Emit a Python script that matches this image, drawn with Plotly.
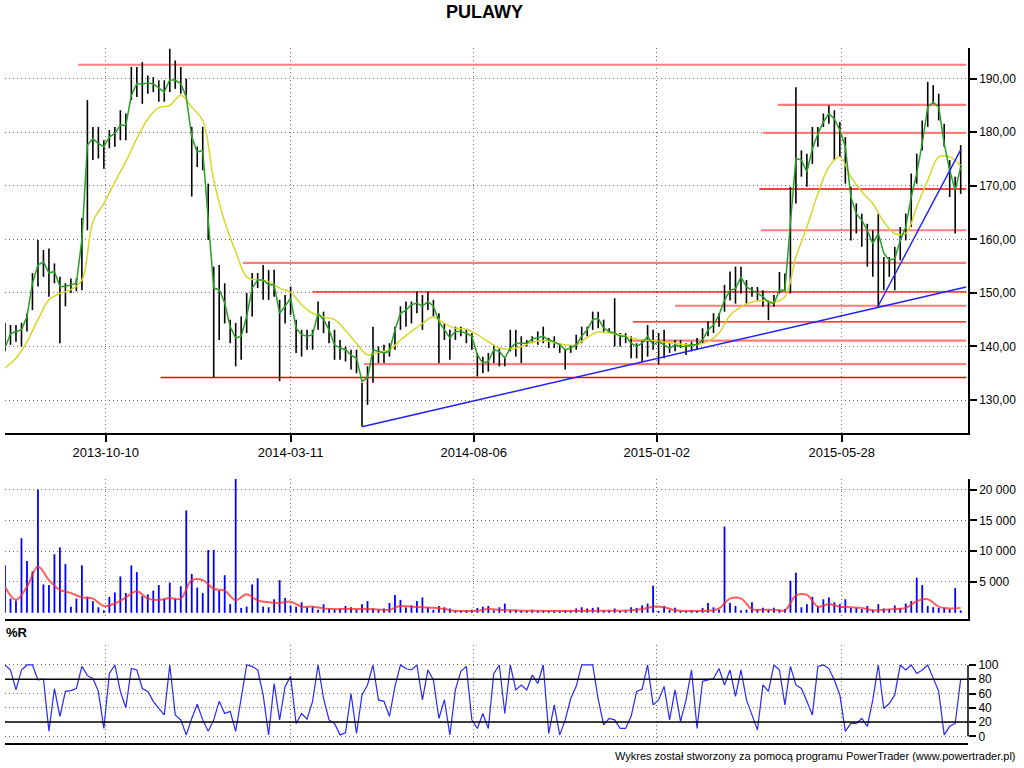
import plotly.graph_objects as go

title_text = "PULAWY"
footer_text = "Wykres został stworzony za pomocą programu PowerTrader (www.powertrader.pl)"
wr_title = "%R"

# samples are taken every `step` trading days (bar index)
step = 3

tick_idx = [55, 156, 256, 356, 457]
tick_labels = ["2013-10-10", "2014-03-11", "2014-08-06", "2015-01-02", "2015-05-28"]

# price high / low per sample
hi = [144.4, 144.0, 144.0, 144.4, 146.2, 153.7, 159.9, 158.0, 158.3, 155.5,
      153.0, 151.8, 152.7, 152.7, 164.0, 186.0, 181.0, 181.0, 178.5, 180.4,
      181.0, 184.1, 183.5, 192.2, 192.2, 193.1, 190.6, 190.3, 189.7, 189.7,
      195.6, 193.4, 192.2, 190.0, 181.0, 177.3, 181.0, 170.4, 154.9, 155.2,
      151.8, 145.0, 144.4, 145.6, 150.0, 153.7, 153.7, 155.2, 154.3, 154.3,
      148.7, 149.6, 151.2, 145.0, 143.1, 143.1, 143.1, 148.4, 146.5, 144.7,
      143.1, 141.2, 140.0, 139.4, 139.4, 133.2, 136.3, 143.7, 140.0, 140.3,
      140.6, 143.7, 147.5, 148.4, 148.4, 150.2, 149.6, 150.2, 148.7, 146.2,
      144.3, 143.1, 143.7, 143.7, 143.1, 142.5, 138.8, 138.1, 138.8, 140.3,
      139.7, 138.1, 143.1, 143.1, 141.9, 141.2, 141.9, 142.8, 143.7, 141.6,
      141.9, 140.6, 139.4, 140.3, 142.2, 143.7, 143.7, 146.5, 146.5, 145.0,
      143.4, 149.0, 142.5, 142.5, 141.9, 140.6, 141.2, 144.0, 143.1, 142.5,
      143.1, 140.6, 141.2, 141.2, 140.6, 140.9, 141.6, 143.4, 144.7, 146.2,
      146.2, 151.5, 154.0, 154.9, 154.9, 152.4, 151.1, 151.1, 150.5, 148.6,
      149.6, 153.9, 153.6, 169.8, 188.4, 176.6, 176.0, 181.0, 181.0, 183.5,
      185.0, 184.1, 181.9, 179.1, 169.8, 166.7, 164.8, 162.9, 161.7, 164.8,
      156.7, 156.7, 158.6, 162.3, 164.8, 172.3, 176.0, 182.2, 189.4, 188.8,
      187.2, 181.6, 174.8, 171.7, 177.6]
lo = [139.1, 140.3, 140.9, 140.0, 142.8, 146.8, 151.2, 153.0, 149.3, 151.8,
      140.6, 147.5, 150.0, 150.3, 150.5, 161.7, 174.8, 175.1, 173.2, 177.0,
      177.3, 178.5, 178.5, 186.0, 186.6, 185.3, 187.2, 187.5, 185.7, 185.7,
      187.5, 188.1, 187.2, 186.9, 168.0, 173.5, 172.9, 159.9, 134.1, 141.2,
      144.3, 140.6, 136.3, 137.5, 142.5, 145.6, 150.9, 148.7, 148.7, 149.3,
      133.5, 144.3, 145.9, 138.8, 138.1, 139.4, 139.4, 143.1, 142.5, 140.6,
      137.5, 137.5, 137.2, 135.7, 135.0, 125.1, 129.1, 133.2, 136.9, 136.9,
      138.1, 139.4, 143.1, 143.7, 144.3, 146.2, 143.1, 146.8, 145.6, 136.9,
      141.2, 137.5, 141.2, 141.9, 140.6, 139.4, 134.4, 135.0, 135.3, 136.9,
      136.3, 136.3, 139.1, 138.1, 136.9, 140.0, 140.6, 140.3, 140.6, 139.7,
      139.7, 138.8, 135.7, 138.8, 139.4, 140.6, 141.9, 143.1, 143.4, 142.5,
      142.5, 140.0, 140.0, 140.6, 137.8, 137.8, 137.2, 138.1, 139.4, 136.6,
      137.8, 138.8, 139.1, 139.7, 138.4, 139.1, 139.4, 140.6, 141.9, 142.5,
      143.7, 146.5, 148.6, 148.0, 149.9, 148.0, 149.3, 148.6, 147.4, 144.9,
      147.4, 149.9, 150.5, 149.9, 166.7, 171.7, 169.8, 174.1, 177.3, 181.0,
      181.6, 174.8, 175.4, 170.4, 159.8, 161.1, 158.6, 154.9, 153.0, 147.4,
      150.5, 153.0, 150.5, 156.1, 159.8, 162.3, 170.4, 176.6, 181.0, 185.3,
      182.2, 177.3, 167.9, 161.1, 168.5]

# short moving average (green), one value per sample
ma_short = [139.7, 142.4, 142.8, 143.1, 145.6, 151.8, 155.2, 155.8, 153.7, 154.0,
            151.2, 151.2, 151.5, 151.8, 160.0, 177.6, 178.8, 177.9, 177.3, 179.1,
            179.8, 181.3, 181.3, 186.9, 189.1, 189.0, 189.2, 189.0, 188.3, 187.5,
            189.8, 189.7, 189.1, 186.6, 179.1, 176.3, 176.6, 163.0, 150.9, 150.6,
            148.1, 143.7, 141.6, 141.9, 145.6, 150.9, 152.4, 152.4, 151.5, 151.5,
            146.2, 147.5, 149.0, 143.4, 142.2, 141.9, 142.2, 146.2, 145.0, 143.1,
            140.3, 139.7, 139.4, 138.4, 137.8, 133.5, 134.1, 139.4, 139.1, 138.8,
            139.1, 143.1, 146.2, 146.8, 147.8, 148.1, 147.5, 148.4, 147.5, 144.7,
            143.1, 141.6, 142.8, 142.8, 142.5, 141.9, 138.4, 136.9, 137.2, 139.4,
            139.1, 137.8, 139.7, 140.6, 140.6, 140.6, 141.4, 141.6, 141.9, 141.2,
            140.9, 140.3, 139.4, 139.7, 140.3, 141.9, 143.1, 145.0, 145.3, 143.4,
            142.8, 142.5, 141.9, 141.9, 140.6, 140.0, 140.6, 141.9, 140.3, 140.9,
            140.3, 139.7, 140.3, 140.0, 140.0, 140.3, 140.3, 141.2, 143.1, 144.0,
            145.9, 148.6, 150.5, 150.8, 153.0, 151.1, 150.5, 149.9, 149.3, 148.3,
            148.0, 150.5, 150.5, 163.0, 175.1, 174.8, 172.6, 176.9, 179.7, 181.9,
            183.5, 182.5, 180.4, 177.3, 167.9, 164.8, 163.6, 161.7, 159.2, 161.1,
            157.4, 156.1, 156.4, 159.8, 162.3, 167.9, 172.3, 177.9, 184.7, 185.6,
            184.7, 177.9, 172.9, 169.2, 173.5]

# long moving average (yellow), one value every two samples
ma_long = [136.0, 137.8, 140.9, 145.0, 148.7, 149.9, 150.6, 152.4, 163.3, 166.7,
           170.7, 174.5, 178.8, 182.5, 184.6, 185.0, 186.9, 184.7, 182.2, 171.1,
           163.3, 157.7, 153.0, 152.4, 152.1, 150.9, 150.1, 147.8, 146.2, 145.5,
           145.0, 143.0, 140.6, 138.4, 138.9, 139.4, 141.2, 142.8, 144.3, 145.5,
           144.3, 143.4, 143.2, 142.2, 140.9, 139.7, 139.5, 140.0, 140.8, 141.1,
           140.7, 140.3, 140.3, 141.7, 142.7, 142.5, 142.2, 141.6, 141.2, 141.1,
           140.8, 140.6, 140.3, 140.3, 140.9, 142.5, 145.8, 147.4, 148.3, 148.6,
           148.3, 149.3, 156.7, 162.3, 168.5, 173.5, 175.4, 171.7, 168.9, 166.7,
           163.3, 161.1, 161.1, 166.1, 171.0, 175.4, 175.4, 173.8]

# volume per sample
vol = [7700, 2300, 2000, 12100, 8400, 6700, 20000, 4600, 4500, 9500,
       10600, 7900, 1000, 2300, 7700, 2600, 1900, 900, 400, 2600,
       3300, 5900, 3200, 7700, 6600, 2700, 3000, 3600, 4500, 2300,
       4900, 2300, 4300, 16600, 6300, 4100, 3200, 10200, 10200, 3600,
       6100, 1400, 21800, 800, 1000, 4600, 5600, 1000, 900, 2200,
       5300, 2400, 1200, 1000, 1700, 900, 1000, 500, 1400, 700,
       500, 700, 1100, 900, 500, 1400, 1900, 700, 500, 700,
       1600, 2900, 2100, 900, 1200, 1900, 2500, 900, 500, 1100,
       900, 700, 400, 400, 400, 500, 800, 1000, 1100, 400,
       900, 1500, 400, 500, 400, 300, 500, 300, 400, 300,
       400, 300, 400, 400, 700, 900, 700, 800, 900, 400,
       400, 700, 300, 400, 900, 800, 1200, 1500, 4400, 300,
       1100, 500, 800, 300, 300, 400, 300, 800, 1600, 900,
       500, 14000, 1600, 1100, 400, 500, 1700, 600, 800, 500,
       800, 500, 600, 5200, 6500, 900, 1400, 2600, 1000, 2200,
       2500, 1700, 1400, 2200, 800, 800, 600, 1100, 500, 1400,
       700, 600, 1200, 800, 1500, 1900, 5700, 4500, 1100, 900,
       800, 800, 600, 4000, 400]

# volume moving average (red), one value every two samples
vol_ma = [4200, 2100, 4200, 7500, 5300, 3700, 3200, 2500, 2300, 1100,
          1500, 2500, 3500, 2300, 2100, 2400, 2300, 5300, 5300, 3900,
          3600, 2050, 3000, 2000, 1700, 1600, 1800, 1000, 1000, 700,
          600, 600, 600, 600, 550, 500, 1100, 1000, 900, 800,
          600, 300, 300, 350, 600, 500, 400, 350, 350, 300,
          300, 300, 300, 300, 350, 350, 350, 400, 600, 1000,
          900, 400, 300, 300, 300, 700, 2300, 2300, 600, 500,
          500, 400, 2800, 2900, 1000, 1400, 1000, 900, 800, 400,
          500, 600, 800, 1900, 2200, 1000, 700, 800]

# Williams %R per sample
wr = [100, 93, 65, 93, 100, 100, 79, 80, 7, 67,
      28, 63, 64, 67, 98, 85, 81, 63, 11, 88,
      100, 63, 40, 95, 93, 67, 63, 49, 39, 30,
      100, 30, 23, 2, 25, 45, 23, 7, 23, 49,
      32, 35, 7, 51, 100, 98, 93, 58, 2, 74,
      23, 70, 84, 18, 32, 24, 49, 100, 53, 23,
      18, 2, 5, 60, 4, 58, 72, 100, 51, 49,
      28, 70, 100, 95, 93, 100, 51, 93, 79, 25,
      51, 2, 65, 91, 98, 23, 11, 32, 11, 88,
      100, 32, 100, 65, 72, 65, 86, 74, 100, 4,
      44, 2, 23, 53, 70, 100, 100, 100, 52, 16,
      25, 23, 11, 11, 28, 63, 66, 100, 44, 51,
      70, 23, 65, 21, 51, 93, 11, 77, 79, 81,
      95, 72, 93, 56, 93, 51, 30, 9, 72, 63,
      100, 93, 44, 98, 72, 67, 49, 30, 98, 100,
      95, 79, 58, 7, 18, 18, 25, 14, 51, 100,
      39, 46, 58, 100, 93, 100, 88, 93, 100, 81,
      63, 2, 14, 18, 80]

# horizontal support / resistance levels (price, starting bar index, strong?)
levels = [192.6, 185.1, 179.9, 169.4, 161.7, 155.6, 150.2, 147.6, 144.6, 141.1, 136.7, 134.2]
level_start = [40, 422, 414, 412, 413, 130, 168, 366, 343, 341, 196, 85]
level_strong = [False, False, False, True, False, False, True, False, True, False, False, True]

# trend lines (bar index, price)
trend1_x = [195, 525]
trend1_y = [125.0, 151.1]
trend2_x = [477, 522]
trend2_y = [147.6, 176.7]

price_ticks = [130, 140, 150, 160, 170, 180, 190]
vol_ticks = [5000, 10000, 15000, 20000]
wr_ticks = [0, 20, 40, 60, 80, 100]
wr_levels = [20, 80]

# ---------------------------------------------------------------
xb = [step * i for i in range(len(hi))]
x_end = step * (len(hi) - 1) + step
xl = [2 * step * i for i in range(len(ma_long))]
xv = [step * i for i in range(len(vol))]
xvm = [2 * step * i for i in range(len(vol_ma))]
xw = [step * i for i in range(len(wr))]


def segments(xs, y0s, y1s):
    sx, sy = [], []
    for x, a, b in zip(xs, y0s, y1s):
        sx += [x, x, None]
        sy += [a, b, None]
    return sx, sy


fig = go.Figure()

for lvl, st, strong in zip(levels, level_start, level_strong):
    fig.add_trace(go.Scatter(
        x=[st, x_end], y=[lvl, lvl], mode="lines",
        line=dict(color="rgb(255,0,0)" if strong else "rgb(255,125,125)",
                  width=1.3 if strong else 2.2),
        xaxis="x", yaxis="y", hoverinfo="skip"))

bx, by = segments(xb, lo, hi)
fig.add_trace(go.Scatter(x=bx, y=by, mode="lines",
                         line=dict(color="black", width=1.6),
                         xaxis="x", yaxis="y", hoverinfo="skip"))

fig.add_trace(go.Scatter(x=xl, y=ma_long, mode="lines",
                         line=dict(color="rgb(215,215,40)", width=1.5, shape="spline"),
                         xaxis="x", yaxis="y"))
fig.add_trace(go.Scatter(x=xb, y=ma_short, mode="lines",
                         line=dict(color="rgb(40,160,40)", width=1.5),
                         xaxis="x", yaxis="y"))

for tx, ty in [(trend1_x, trend1_y), (trend2_x, trend2_y)]:
    fig.add_trace(go.Scatter(x=tx, y=ty, mode="lines",
                             line=dict(color="rgb(30,30,255)", width=1.4),
                             xaxis="x", yaxis="y"))

vx, vy = segments(xv, [0] * len(vol), vol)
fig.add_trace(go.Scatter(x=vx, y=vy, mode="lines",
                         line=dict(color="rgb(0,0,255)", width=1.8),
                         xaxis="x2", yaxis="y2", hoverinfo="skip"))
fig.add_trace(go.Scatter(x=xvm, y=vol_ma, mode="lines",
                         line=dict(color="rgba(255,40,40,0.75)", width=2, shape="spline"),
                         xaxis="x2", yaxis="y2"))

fig.add_trace(go.Scatter(x=xw, y=wr, mode="lines",
                         line=dict(color="rgb(40,40,255)", width=1.2),
                         xaxis="x3", yaxis="y3"))

grid = dict(showgrid=True, gridcolor="rgb(110,110,110)", griddash="1px,3px", gridwidth=1,
            zeroline=False)
xdom = [5 / 1024, 968 / 1024]
tickfont_x = dict(family="Liberation Sans", size=13, color="black")
tickfont_y = dict(family="Liberation Sans", size=12, color="black")

common_x = dict(domain=xdom, range=[0, 526], tickmode="array", tickvals=tick_idx,
                showline=True, linecolor="black", linewidth=1.5, **grid)

fig.update_layout(
    width=1024, height=768, autosize=False,
    margin=dict(l=0, r=0, t=0, b=0),
    paper_bgcolor="white", plot_bgcolor="white",
    showlegend=False, separators=", ",
    font=dict(family="Liberation Sans", size=12, color="black"),
    xaxis=dict(anchor="y", ticktext=tick_labels, ticks="outside", ticklen=7,
               tickwidth=1.5, tickcolor="black", tickfont=tickfont_x, **common_x),
    xaxis2=dict(anchor="y2", matches="x", showticklabels=False, ticks="", **common_x),
    xaxis3=dict(anchor="y3", matches="x", showticklabels=False, ticks="", **common_x),
    yaxis=dict(domain=[1 - 433 / 768, 1 - 48 / 768], range=[123.84, 195.73], anchor="x",
               side="right", tickmode="array", tickvals=price_ticks, tickformat=",.2f",
               ticks="outside", ticklen=7, tickwidth=1.5, tickcolor="black",
               showline=True, linecolor="black", linewidth=1.5, tickfont=tickfont_y, **grid),
    yaxis2=dict(domain=[1 - 619 / 768, 1 - 479 / 768], range=[-1005, 21703], anchor="x2",
                side="right", tickmode="array", tickvals=vol_ticks, tickformat=",d",
                ticks="outside", ticklen=7, tickwidth=1.5, tickcolor="black",
                showline=True, linecolor="black", linewidth=1.5, tickfont=tickfont_y, **grid),
    yaxis3=dict(domain=[1 - 743 / 768, 1 - 645 / 768], range=[-9.4, 128], anchor="x3",
                side="right", tickmode="array", tickvals=wr_ticks,
                ticks="outside", ticklen=7, tickwidth=1.5, tickcolor="black",
                showline=False, tickfont=tickfont_y, **grid),
)

for lv in wr_levels:
    fig.add_shape(type="line", xref="x3 domain", yref="y3", x0=0, x1=1, y0=lv, y1=lv,
                  line=dict(color="black", width=1.5))
fig.add_shape(type="line", xref="x3 domain", yref="y3", x0=1, x1=1,
              y0=wr_ticks[0], y1=wr_ticks[-1], line=dict(color="black", width=1.5))

fig.add_annotation(text="<b>" + title_text + "</b>", xref="paper", yref="paper",
                   x=484 / 1024, y=1 - 12 / 768, xanchor="center", yanchor="middle",
                   showarrow=False, font=dict(family="Liberation Sans", size=18, color="black"))
fig.add_annotation(text="<b>" + wr_title + "</b>", xref="paper", yref="paper",
                   x=4 / 1024, y=1 - 632 / 768, xanchor="left", yanchor="middle",
                   showarrow=False, font=dict(family="Liberation Sans", size=13, color="black"))
fig.add_annotation(text=footer_text, xref="paper", yref="paper",
                   x=1018 / 1024, y=1 - 756 / 768, xanchor="right", yanchor="middle",
                   showarrow=False, font=dict(family="Liberation Sans", size=11, color="black"))

fig.write_html("out.html",
               config={"displayModeBar": False},
               post_script="document.body.style.margin='0px';document.body.style.overflow='hidden';")
